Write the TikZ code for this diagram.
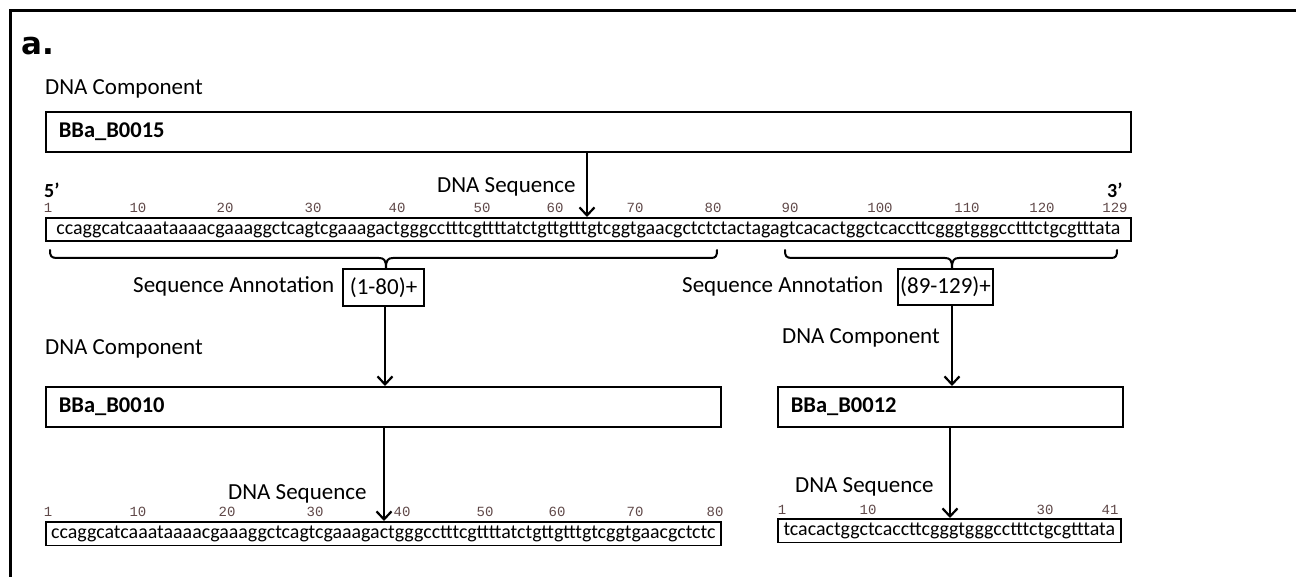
\documentclass[tikz,border=0pt]{standalone}
\usepackage{fontspec}
\setmainfont{Carlito}
\newfontfamily\monof{Liberation Mono}
\newfontfamily\headf{DejaVu Sans}
\usetikzlibrary{arrows.meta}
\definecolor{numcol}{RGB}{95,72,72}
\begin{document}
\begin{tikzpicture}[x=1pt,y=-1pt,
  lbl/.style={anchor=base west, inner sep=0pt, font=\fontsize{23}{23}\selectfont},
  compbox/.style={draw, line width=1.6pt, anchor=north west, minimum height=40pt, inner xsep=13pt, align=left, font=\fontsize{22.5}{22.5}\selectfont\bfseries},
  seqbox/.style={draw, line width=1.6pt, anchor=north west, inner xsep=3pt, inner ysep=0pt, minimum height=23.5pt, font=\fontsize{19.95}{19.95}\selectfont},
  annbox/.style={draw, line width=1.5pt, inner sep=0pt, font=\fontsize{23}{23}\selectfont},
  num/.style={anchor=base, inner sep=0pt, text=numcol, font=\monof\fontsize{14}{14}\selectfont},
  prime/.style={anchor=base west, inner sep=0pt, font=\fontsize{20}{20}\selectfont\bfseries},
  arr/.style={-{Straight Barb[length=8pt,width=15pt]}, line width=2.2pt},
  bracepath/.style={line width=2pt, line cap=round, line join=round}
]
\useasboundingbox (0,0) rectangle (1296,577);
% frame
\draw[line width=3pt, line join=miter] (10.5,577) -- (10.5,11) -- (1296,11);
\node[anchor=base west, inner sep=0pt, font=\headf\bfseries\fontsize{31}{31}\selectfont] (lab) at (21,55) {a.};

% top component
\node[lbl] (dc1) at (45,95) {DNA Component};
\node[compbox, text width=1059pt] (c15) at (45,111) {BBa\_B0015};
\node[lbl] (ds1) at (437,193) {DNA Sequence};
\node[prime] (p5) at (44,198) {5’};
\node[prime] (p3) at (1107,198) {3’};
\foreach \x/\n in {48/1,138/10,225/20,313/30,397/40,482/50,555/60,635/70,713/80,790/90,880/100,967/110,1042/120,1115/129}
  \node[num] (t\n) at (\x,212.5) {\n};
\node[seqbox, minimum width=1085pt] (s15) at (45,217) {ccaggcatcaaataaaacgaaaggctcagtcgaaagactgggcctttcgttttatctgttgtttgtcggtgaacgctctctactagagtcacactggctcaccttcgggtgggcctttctgcgtttata};
\coordinate (ax0) at (587,0);
\draw[arr] (c15.south -| ax0) -- (s15.north -| ax0);

% braces
\draw[bracepath] (50,250) .. controls (50,256) and (51,258) .. (57,258) -- (379,258) .. controls (384,258) and (386,260) .. (386,268);
\draw[bracepath] (386,268) .. controls (386,260) and (388,258) .. (393,258) -- (711,258) .. controls (716,258) and (717,256) .. (717,250);
\draw[bracepath] (785,250) .. controls (785,256) and (786,258) .. (792,258) -- (945,258) .. controls (950,258) and (952,260) .. (952,268);
\draw[bracepath] (952,268) .. controls (952,260) and (954,258) .. (959,258) -- (1111,258) .. controls (1116,258) and (1117,256) .. (1117,250);

% annotations
\node[lbl] (sa1) at (133,293) {Sequence Annotation};
\node[lbl] (sa2) at (682,293) {Sequence Annotation};
\node[annbox, minimum width=81pt, minimum height=37pt] (a1) at (383.5,287.5) {(1-80)+};
\node[annbox, minimum width=95pt, minimum height=36pt] (a2) at (945.5,287) {(89-129)+};
\coordinate (ax1) at (385,0);
\coordinate (ax2) at (952,0);
\coordinate (ax3) at (950,0);

% lower components
\node[lbl] (dc2) at (45,354) {DNA Component};
\node[lbl] (dc3) at (782,344) {DNA Component};
\node[compbox, text width=649pt] (c10) at (45,386) {BBa\_B0010};
\node[compbox, text width=319pt] (c12) at (777,386) {BBa\_B0012};
\draw[arr] (a1.south -| ax1) -- (c10.north -| ax1);
\draw[arr] (a2.south -| ax2) -- (c12.north -| ax2);

% lower sequences
\node[lbl] (ds2) at (228,499) {DNA Sequence};
\node[lbl] (ds3) at (795,492) {DNA Sequence};
\foreach \x/\n in {48/1,138/10,227/20,315/30,402/40,485/50,557/60,635/70,715/80}
  \node[num] (l\n) at (\x,516.5) {\n};
\foreach \x/\n in {782/1,868/10,1045/30,1110/41}
  \node[num] (r\n) at (\x,514) {\n};
\node[seqbox, minimum width=675pt] (s10) at (45,521) {ccaggcatcaaataaaacgaaaggctcagtcgaaagactgggcctttcgttttatctgttgtttgtcggtgaacgctctc};
\node[seqbox, minimum width=343pt] (s12) at (777,518) {tcacactggctcaccttcgggtgggcctttctgcgtttata};
\coordinate (ax4) at (384,0);
\draw[arr] (c10.south -| ax4) -- (s10.north -| ax4);
\draw[arr] (c12.south -| ax3) -- (s12.north -| ax3);
\end{tikzpicture}
\end{document}
